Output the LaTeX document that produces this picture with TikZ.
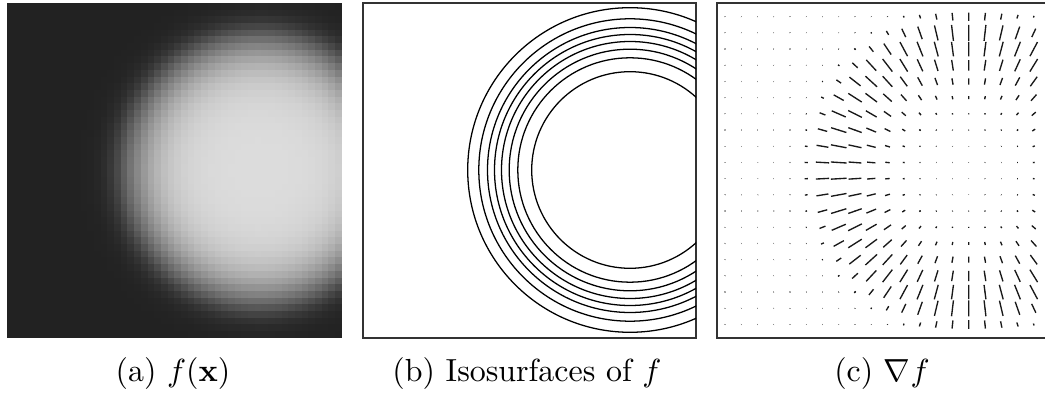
\documentclass[tikz,border=0pt]{standalone}
\usepackage{amsmath,amssymb}
\usepackage{tikz}

\begin{document}
\begin{tikzpicture}[
      x=0.313pt,
      y=-0.313pt,
      panel/.style={draw=black!80,line width=0.35pt},
      isoline/.style={line width=0.4pt},
      gradseg/.style={line width=0.42pt,black!90},
      griddot/.style={fill=black!30},
      caption/.style={anchor=base,inner sep=0pt}
    ]
    \useasboundingbox (0,0) rectangle (1045,393);
    % (a) blurred disc, sampled on a coarse grid
    \foreach \i in {0,...,49}
      \foreach \j in {0,...,49} {
        \pgfmathsetmacro\cx{7+6.7*(\i+0.5)}
        \pgfmathsetmacro\cy{3+6.7*(\j+0.5)}
        \pgfmathsetmacro\rr{100*veclen((\cx-260)/100,(\cy-170)/100)}
        \pgfmathsetmacro\zo{max(min(1.702*(\rr-138)/14,9),-9)}
        \pgfmathsetmacro\zi{max(min(1.702*(138-\rr)/35,9),-9)}
        \pgfmathsetmacro\v{ifthenelse(\rr<138,0.286+0.714*(2/(1+exp(-\zi))-1),0.572*(1-1/(1+exp(-\zo))))}
        \pgfmathsetmacro\lev{13.3+73.3*\v}
        \fill[white!\lev!black] (\cx-3.5,\cy-3.5) rectangle (\cx+3.5,\cy+3.5);
      }
    % (b) isosurfaces
    \draw[panel] (363,3) rectangle (696,338);
    \begin{scope}
      \clip (363,3) rectangle (696,338);
      \foreach \r in {98.3,112.2,120.8,128.5,135.5,142.5,151.2,162.3}
        \draw[isoline] (630,170) circle[radius=\r];
    \end{scope}
    % (c) gradient field
    \draw[panel] (717,3) rectangle (1052,338);
    \foreach \i in {0,...,19}
      \foreach \j in {0,...,19} {
        \pgfmathsetmacro\gx{725+16.25*\i}
        \pgfmathsetmacro\gy{16.7+16.2*\j}
        \pgfmathsetmacro\rr{max(100*veclen((\gx-969)/100,(\gy-171)/100),1)}
        \pgfmathsetmacro\ux{(\gx-969)/\rr}
        \pgfmathsetmacro\uy{(\gy-171)/\rr}
        \pgfmathsetmacro\sig{ifthenelse(\rr<138,35,14)}
        \pgfmathsetmacro\hl{8*exp(-min(0.5*((\rr-138)/\sig)^2,40))}
        \fill[griddot] (\gx-0.6,\gy-0.6) rectangle (\gx+0.6,\gy+0.6);
        \draw[gradseg] (\gx-\hl*\ux,\gy-\hl*\uy) -- (\gx+\hl*\ux,\gy+\hl*\uy);
      }
    \node[caption] (capa) at (173,382) {(a) $f(\mathbf{x})$};
    \node[caption] (capb) at (527,382) {(b) Isosurfaces of $f$};
    \node[caption] (capc) at (882,382) {(c) $\nabla f$};
  \end{tikzpicture}
\end{document}
